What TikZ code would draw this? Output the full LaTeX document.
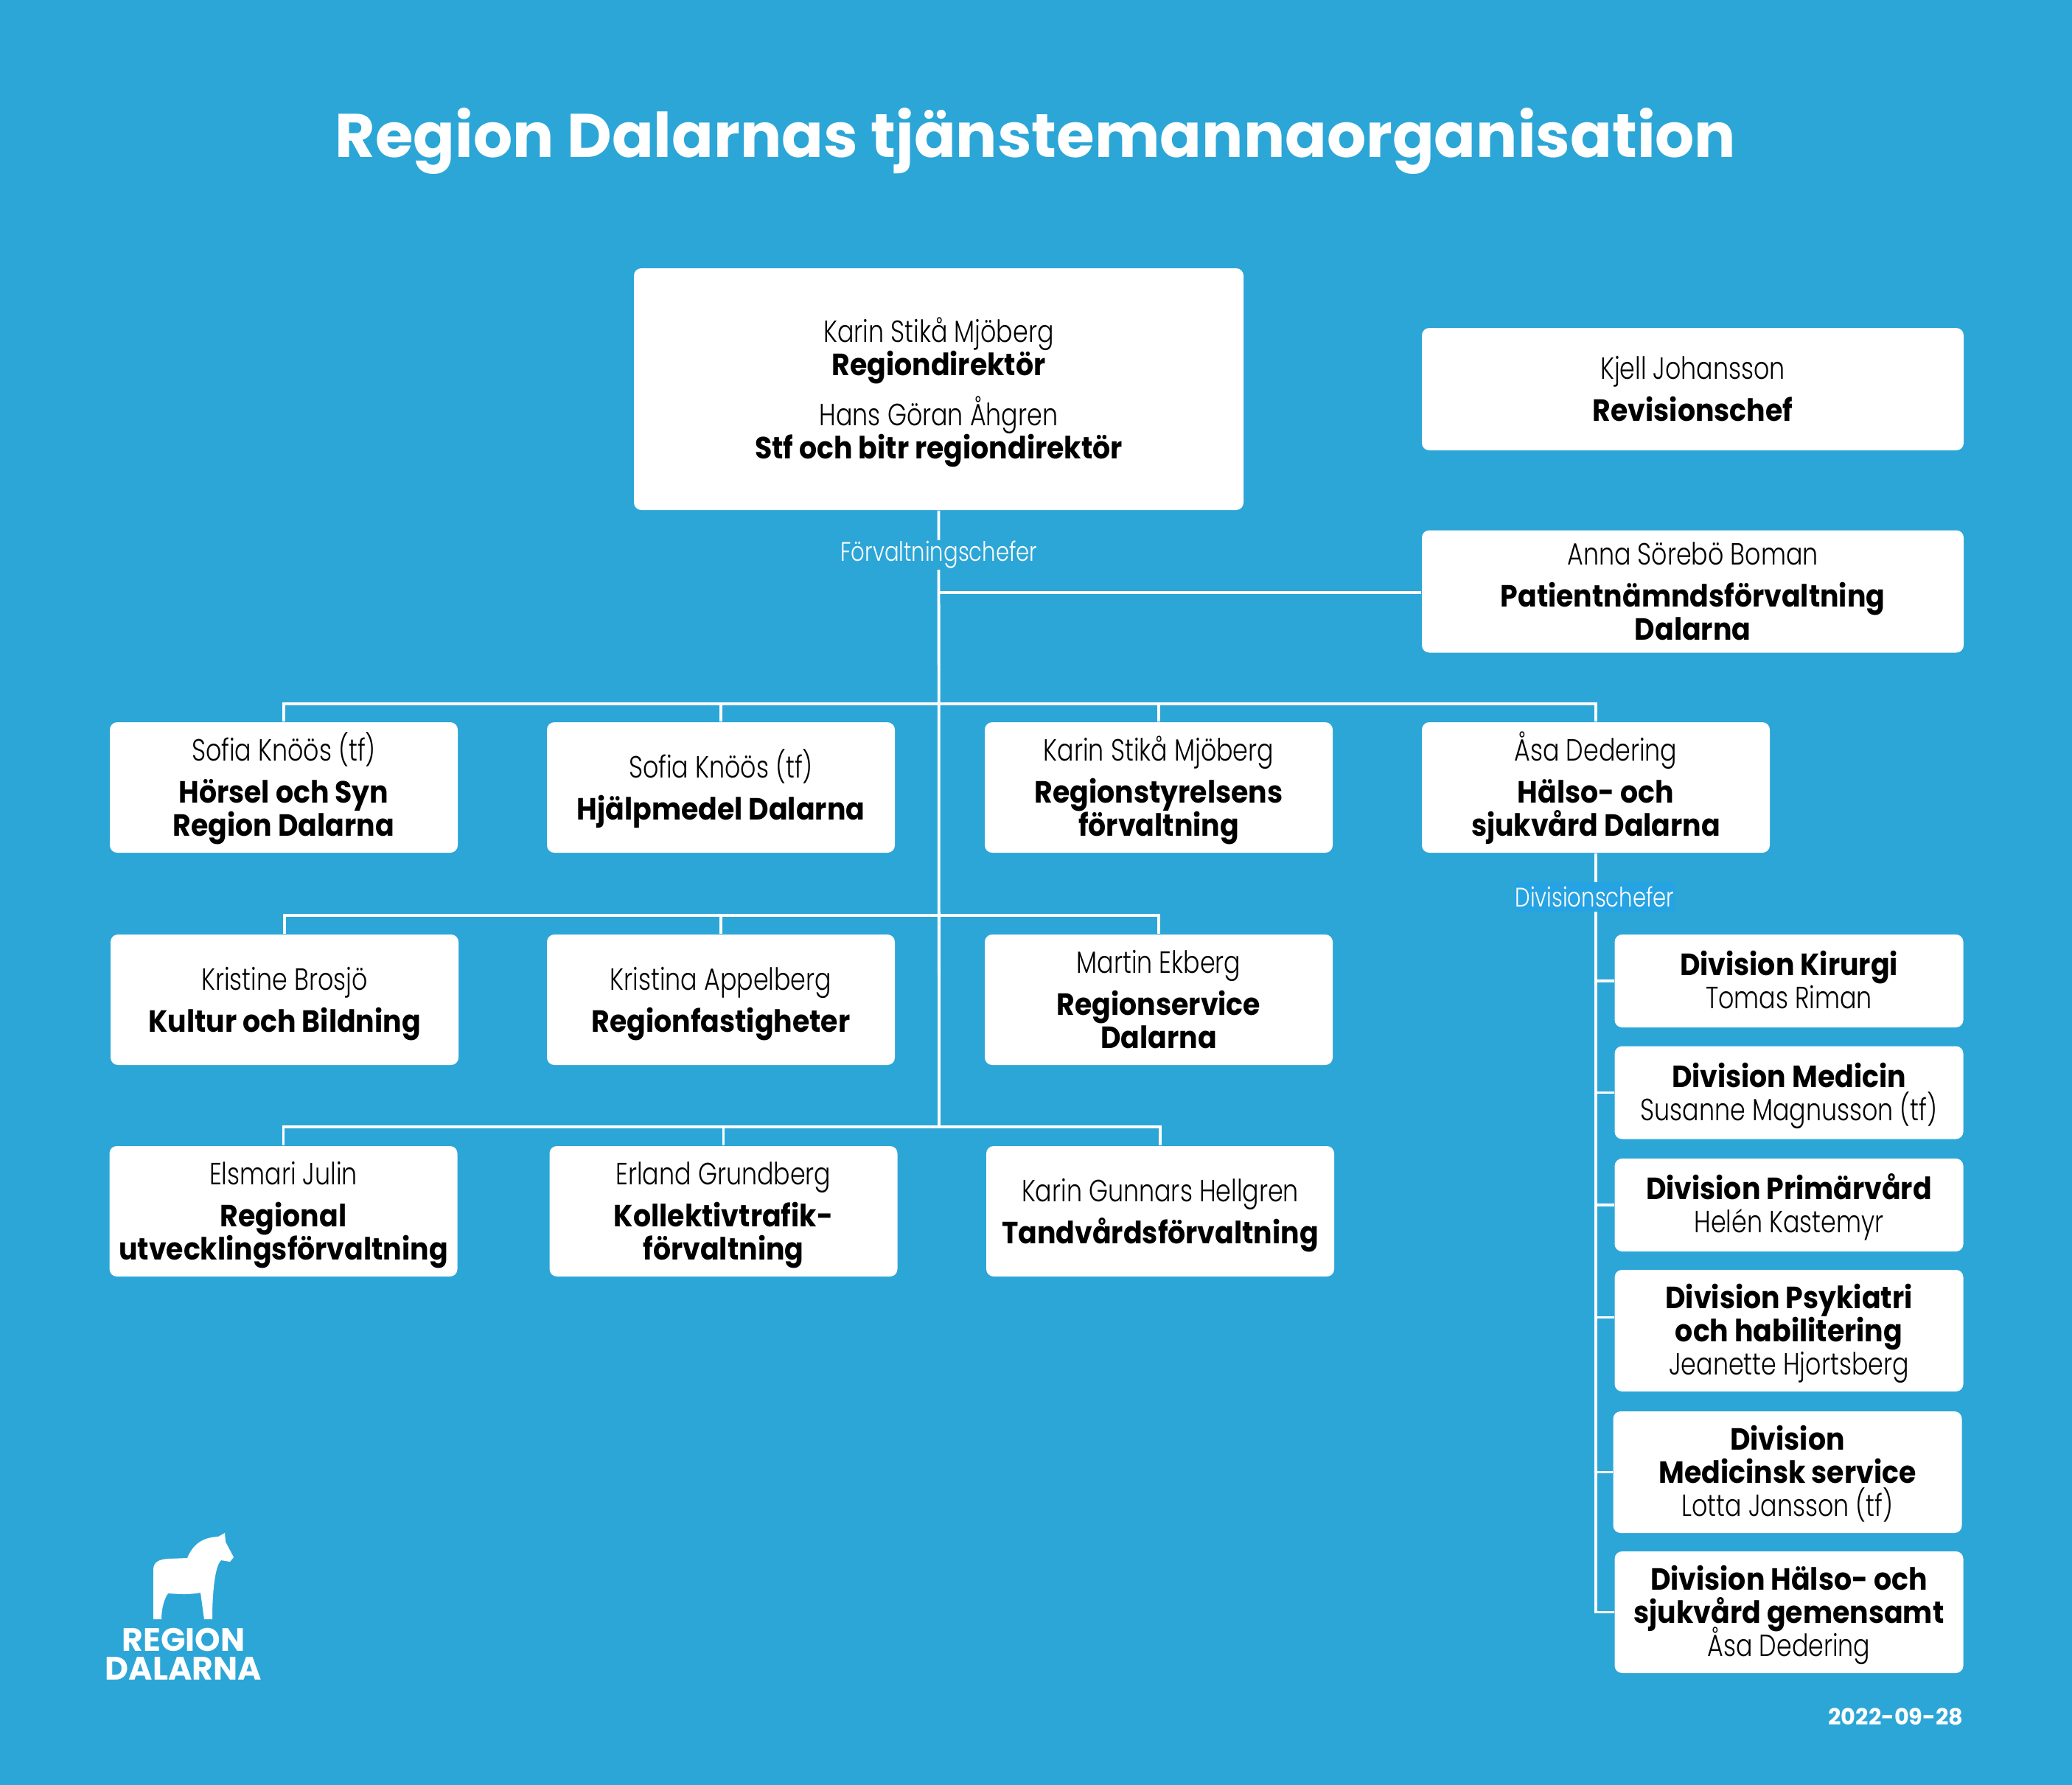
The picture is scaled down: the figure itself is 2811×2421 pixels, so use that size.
\documentclass[tikz,border=0pt]{standalone}
\usepackage{fontspec}
\setmainfont{Poppins Light}[BoldFont={Poppins Bold},FakeStretch=0.80,BoldFeatures={FakeStretch=0.91}]
\newfontfamily\titlefont{Poppins Bold}
\usepackage{tikz}
\usetikzlibrary{calc}
\definecolor{bgblue}{RGB}{44,166,215}
\definecolor{labelblue}{RGB}{38,163,226}
\newcommand{\linestrut}{\vrule width 0pt height 11pt depth 3.5pt\relax}
\lineskiplimit=-20pt
\normallineskiplimit=-20pt
\tikzset{
    box/.style={rectangle, fill=white, rounded corners=2.5pt, inner sep=0pt, align=center, text=black,
        font=\fontsize{10.4}{11.25}\selectfont},
    main box/.style={box, minimum width=206.75pt, minimum height=82pt},
    side box/.style={box, minimum width=183.75pt, minimum height=41.5pt},
    org box/.style={box, minimum width=118pt, minimum height=44.25pt},
    div box/.style={box, minimum width=118.25pt, minimum height=31.5pt},
    large div box/.style={box, minimum width=118.25pt, minimum height=41.25pt},
    link/.style={draw=white, line width=0.95pt},
    link label/.style={font=\fontsize{9.1}{10}\selectfont, text=white, inner sep=0pt, minimum height=10pt},
}
\newcommand{\hd}[1]{\textbf{#1}}
\begin{document}
\begin{tikzpicture}[x=0.25pt, y=-0.25pt]
    \useasboundingbox (0,0) rectangle (2811,2421);
    \fill[bgblue] (-5,-5) rectangle (2816,2426);

    % Title
    \node[text=white, font=\titlefont\fontsize{20.9}{26}\selectfont] (title) at (1405,192) {Region Dalarnas tjänstemannaorganisation};

    % Top boxes
    \node[main box] (direktor) at (1273.5,528) {\linestrut Karin Stikå Mjöberg\\\hd{Regiondirektör}\\[5.75pt]Hans Göran Åhgren\\\hd{Stf och bitr regiondirektör}\linestrut};
    \node[side box] (revision) at (2296.5,528) {\linestrut Kjell Johansson\\[3pt]\hd{Revisionschef}\linestrut};
    \node[side box] (patient) at (2296.5,802.5) {\linestrut Anna Sörebö Boman\\[3pt]\hd{Patientnämndsförvaltning}\\\hd{Dalarna}\linestrut};

    % First row
    \node[org box] (horsel) at (385,1068.5) {\linestrut Sofia Knöös (tf)\\[3pt]\hd{Hörsel och Syn}\\\hd{Region Dalarna}\linestrut};
    \node[org box] (hjalpmedel) at (978,1068.5) {\linestrut Sofia Knöös (tf)\\[3pt]\hd{Hjälpmedel Dalarna}\linestrut};
    \node[org box] (styrelse) at (1572,1068.5) {\linestrut Karin Stikå Mjöberg\\[3pt]\hd{Regionstyrelsens}\\\hd{förvaltning}\linestrut};
    \node[org box] (halso) at (2165,1068.5) {\linestrut Åsa Dedering\\[3pt]\hd{Hälso- och}\\\hd{sjukvård Dalarna}\linestrut};

    % Second row
    \node[org box] (kultur) at (386,1356.5) {\linestrut Kristine Brosjö\\[3pt]\hd{Kultur och Bildning}\linestrut};
    \node[org box] (fastighet) at (978,1356.5) {\linestrut Kristina Appelberg\\[3pt]\hd{Regionfastigheter}\linestrut};
    \node[org box] (service) at (1572,1356.5) {\linestrut Martin Ekberg\\[3pt]\hd{Regionservice}\\\hd{Dalarna}\linestrut};

    % Third row
    \node[org box] (utveckling) at (384.5,1643.5) {\linestrut Elsmari Julin\\[3pt]\hd{Regional}\\\hd{utvecklingsförvaltning}\linestrut};
    \node[org box] (kollektiv) at (981.5,1643.5) {\linestrut Erland Grundberg\\[3pt]\hd{Kollektivtrafik-}\\\hd{förvaltning}\linestrut};
    \node[org box] (tandvard) at (1574,1643.5) {\linestrut Karin Gunnars Hellgren\\[3pt]\hd{Tandvårdsförvaltning}\linestrut};

    % Divisions
    \node[div box] (kirurgi) at (2427,1331) {\linestrut\hd{Division Kirurgi}\\Tomas Riman\linestrut};
    \node[div box] (medicin) at (2427,1482.5) {\linestrut\hd{Division Medicin}\\Susanne Magnusson (tf)\linestrut};
    \node[div box] (primar) at (2427,1635) {\linestrut\hd{Division Primärvård}\\Helén Kastemyr\linestrut};
    \node[large div box] (psykiatri) at (2427,1805.5) {\linestrut\hd{Division Psykiatri}\\\hd{och habilitering}\\Jeanette Hjortsberg\linestrut};
    \node[large div box] (mservice) at (2425,1997.5) {\linestrut\hd{Division}\\\hd{Medicinsk service}\\Lotta Jansson (tf)\linestrut};
    \node[large div box] (gemensamt) at (2427,2187.5) {\linestrut\hd{Division Hälso- och}\\\hd{sjukvård gemensamt}\\Åsa Dedering\linestrut};

    % Junctions on the trunk lines
    \coordinate (patIn) at ($(patient.west)+(0,1.5)$);
    \coordinate (rowA) at (1274,955);
    \coordinate (rowB) at (1274,1242);
    \coordinate (rowC) at (1274,1529);
    \coordinate (psyIn) at ($(psykiatri.west)+(0,-18)$);

    % Trunk from the top box
    \draw[link] (direktor.south) -- (rowC);
    \draw[link] (direktor.south |- patIn) -- (patIn);
    \draw[link] (horsel.north) |- (rowA) -| (halso.north);
    \draw[link] (hjalpmedel.north) -- (hjalpmedel.north |- rowA);
    \draw[link] (styrelse.north) -- (styrelse.north |- rowA);
    \draw[link] (kultur.north) |- (rowB) -| (service.north);
    \draw[link] (fastighet.north) -- (fastighet.north |- rowB);
    \draw[link] (utveckling.north) |- (rowC) -| (tandvard.north);
    \draw[link] (kollektiv.north) -- (kollektiv.north |- rowC);

    % Trunk of the divisions
    \draw[link] (halso.south) |- (gemensamt.west);
    \draw[link] (halso.south |- kirurgi.west) -- (kirurgi.west);
    \draw[link] (halso.south |- medicin.west) -- (medicin.west);
    \draw[link] (halso.south |- primar.west) -- (primar.west);
    \draw[link] (halso.south |- psyIn) -- (psyIn);
    \draw[link] (halso.south |- mservice.west) -- (mservice.west);

    % Labels on the trunks
    \node[link label, fill=bgblue, minimum width=60pt] (forvaltning) at (1274,753) {Förvaltningschefer};
    \node[link label, fill=labelblue, minimum width=54pt] (division) at (2163.5,1217) {Divisionschefer};

    % Logo
    \fill[white] (208,2197) -- (208,2130) .. controls (208,2118) and (218,2116) .. (227,2115)
        -- (254,2114) .. controls (262,2095) and (275,2086) .. (296,2085)
        -- (305,2080) -- (306,2092) -- (317,2113) -- (312,2119) -- (300,2117)
        .. controls (291,2125) and (288,2165) .. (288,2197) -- (277,2197) -- (272,2161)
        .. controls (255,2164) and (245,2163) .. (228,2162)
        .. controls (222,2170) and (219,2185) .. (219,2197) -- cycle;
    \node[text=white, font=\titlefont\fontsize{11}{12}\selectfont, inner sep=0pt] (logoA) at (249,2225) {REGION};
    \node[text=white, font=\titlefont\fontsize{11}{12}\selectfont, inner sep=0pt] (logoB) at (249,2264) {DALARNA};

    % Date
    \node[text=white, font=\titlefont\fontsize{7.6}{9}\selectfont, anchor=east, inner sep=0pt] (datum) at (2664,2329) {2022-09-28};
\end{tikzpicture}
\end{document}
